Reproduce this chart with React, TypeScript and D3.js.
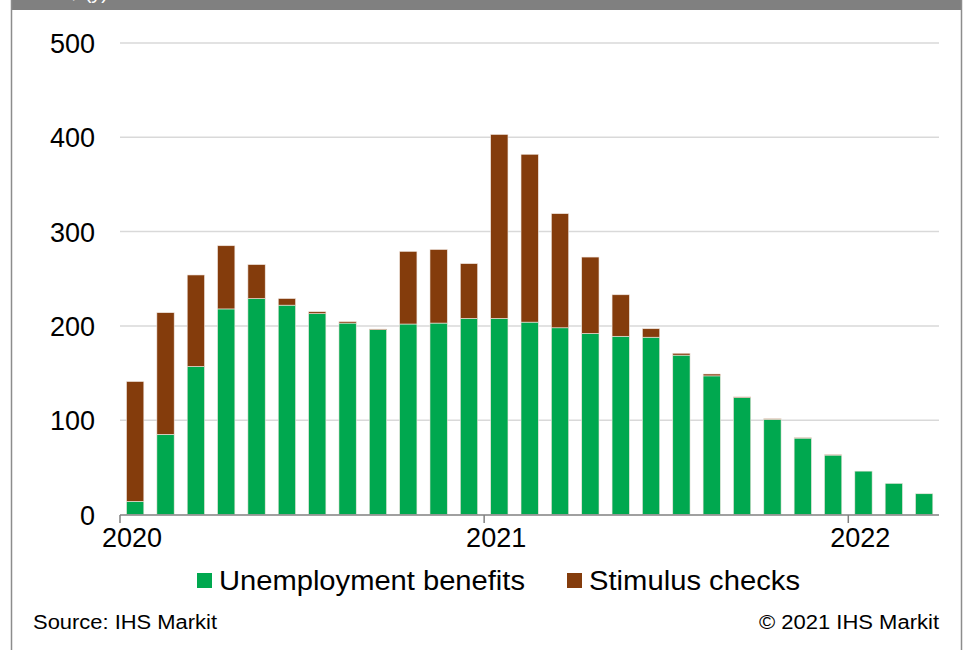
import React from "react";
import * as d3 from "d3";

const months: string[] = [
  "2020-01","2020-02","2020-03","2020-04","2020-05","2020-06","2020-07","2020-08","2020-09","2020-10","2020-11","2020-12",
  "2021-01","2021-02","2021-03","2021-04","2021-05","2021-06","2021-07","2021-08","2021-09","2021-10","2021-11","2021-12",
  "2022-01","2022-02","2022-03",
];
const unemployment: number[] = [
  14, 85, 157, 218, 229, 222, 213, 203, 196, 202, 203, 208,
  208, 204, 198, 192, 189, 188, 169, 147, 124, 101, 81, 63,
  46, 33, 22,
];
const stimulus: number[] = [
  127, 129, 97, 67, 36, 7, 2, 1.5, 0.7, 77, 78, 58,
  195, 178, 121, 81, 44, 9, 2, 2, 0.7, 0.6, 0.4, 0.7,
  0, 0, 0,
];
const yTicks: number[] = [0, 100, 200, 300, 400, 500];
const yearTicks: string[] = ["2020", "2021", "2022"];
const seriesNames: string[] = ["Unemployment benefits", "Stimulus checks"];
const colors: string[] = ["#00A84F", "#843C0C"];

const W = 967;
const H = 650;
const FONT = "'Liberation Sans', Arial, sans-serif";

export default function App() {
  const x0 = 120;
  const x1 = 939;
  const monthW = (848.3 - 120) / 24;
  const x = d3
    .scaleBand<string>()
    .domain(months)
    .range([x0, x0 + monthW * months.length])
    .paddingInner(0.43)
    .paddingOuter(0.215);
  const y = d3.scaleLinear().domain([0, 500]).range([514.5, 43]);

  const table = months.map((m, i) => ({ month: m, u: unemployment[i], s: stimulus[i] }));
  const stacked = d3.stack<any>().keys(["u", "s"])(table);

  const yearX = (yr: string) => x0 + monthW * 12 * (Number(yr) - 2020);

  return (
    <svg
      width={W}
      height={H}
      style={{ position: "absolute", left: 0, top: 0, background: "#fff" }}
      fontFamily={FONT}
    >
      <rect x={0} y={0} width={W} height={H} fill="#fff" />
      {/* top band */}
      <rect x={11} y={0} width={951} height={10} fill="#808080" />
      <text x={108} y={-1} fontSize={20} fill="#fff" textAnchor="end">
        Bil. $ (y)
      </text>
      {/* frame */}
      <line x1={11.5} x2={11.5} y1={0} y2={H} stroke="#8c8c8c" strokeWidth={1.5} />
      <line x1={961.5} x2={961.5} y1={0} y2={H} stroke="#8c8c8c" strokeWidth={1.5} />

      {/* gridlines */}
      {yTicks.filter((t) => t > 0).map((t) => (
        <line key={t} x1={x0} x2={x1} y1={y(t)} y2={y(t)} stroke="#d9d9d9" strokeWidth={1.5} />
      ))}
      {/* y tick labels */}
      {yTicks.map((t) => (
        <text key={t} x={95} y={y(t) + 10} fontSize={27} textAnchor="end" fill="#000">
          {t}
        </text>
      ))}

      {/* bars */}
      {stacked.map((layer, li) => (
        <g key={li} fill={colors[li]}>
          {layer.map((d, i) => {
            const h = y(d[0]) - y(d[1]);
            if (h <= 0) return null;
            return (
              <rect
                key={i}
                x={x(months[i])}
                y={y(d[1])}
                width={x.bandwidth()}
                height={h}
                stroke="#f0e6df"
                strokeWidth={0.6}
              />
            );
          })}
        </g>
      ))}

      {/* x axis */}
      <line x1={x0} x2={x1} y1={515} y2={515} stroke="#808080" strokeWidth={1.5} />
      {yearTicks.map((yr) => (
        <g key={yr}>
          <line x1={yearX(yr)} x2={yearX(yr)} y1={515} y2={523} stroke="#808080" strokeWidth={1.5} />
          <text x={yearX(yr) + 12} y={547} fontSize={27} textAnchor="middle" fill="#000">
            {yr}
          </text>
        </g>
      ))}

      {/* legend */}
      <rect x={197} y={573} width={15} height={15} fill={colors[0]} />
      <text x={219} y={590} fontSize={27.5} fill="#000" textLength={306} lengthAdjust="spacingAndGlyphs">
        {seriesNames[0]}
      </text>
      <rect x={567} y={573} width={15} height={15} fill={colors[1]} />
      <text x={589} y={590} fontSize={27.5} fill="#000" textLength={211} lengthAdjust="spacingAndGlyphs">
        {seriesNames[1]}
      </text>

      {/* footer */}
      <text x={33} y={629} fontSize={20} fill="#000" textLength={184} lengthAdjust="spacingAndGlyphs">
        Source: IHS Markit
      </text>
      <text x={759} y={629} fontSize={20} fill="#000" textLength={180} lengthAdjust="spacingAndGlyphs">
        © 2021 IHS Markit
      </text>
    </svg>
  );
}
